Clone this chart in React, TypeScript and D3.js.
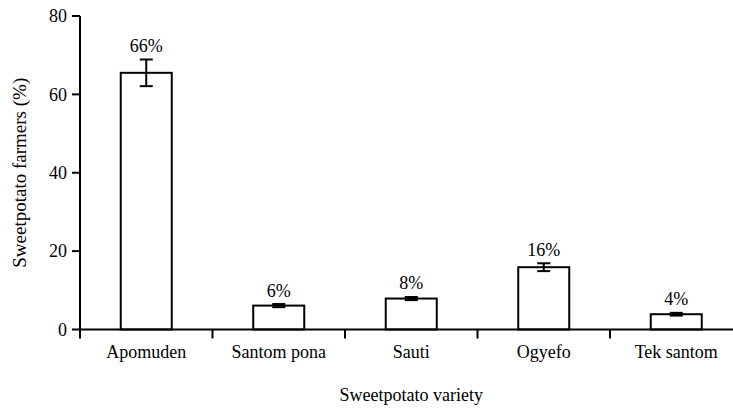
import React from "react";
import * as d3 from "d3";

const categories = ["Apomuden", "Santom pona", "Sauti", "Ogyefo", "Tek santom"];
const values = [65.5, 6.1, 7.9, 15.9, 3.9];
const errors = [3.4, 0.4, 0.4, 1.0, 0.35];
const labels = ["66%", "6%", "8%", "16%", "4%"];
const yTicks = [0, 20, 40, 60, 80];

const W = 733, H = 411;
const x0 = 80, x1 = 742.5, yTop = 16, yBottom = 329.5;
const FONT = "Liberation Serif";

export default function App() {
  const x = d3.scaleBand().domain(categories).range([x0, x1]).paddingInner(0.615).paddingOuter(0.3075);
  const y = d3.scaleLinear().domain([0, 80]).range([yBottom, yTop]);
  const step = x.step();
  const ts = { fontFamily: FONT };
  return (
    <svg width={W} height={H} style={{ position: "absolute", left: 0, top: 0, background: "#fff" }}>
      {categories.map((c, i) => {
        const bx = x(c)!;
        const bw = x.bandwidth();
        const cx = bx + bw / 2;
        const top = y(values[i]);
        const eTop = y(values[i] + errors[i]);
        const eBot = y(values[i] - errors[i]);
        return (
          <g key={c}>
            <rect x={bx} y={top} width={bw} height={yBottom - top} fill="#fff" stroke="#000" strokeWidth={2} />
            <line x1={cx} x2={cx} y1={eTop} y2={eBot} stroke="#000" strokeWidth={2} />
            <line x1={cx - 6.5} x2={cx + 6.5} y1={eTop} y2={eTop} stroke="#000" strokeWidth={2} />
            <line x1={cx - 6.5} x2={cx + 6.5} y1={eBot} y2={eBot} stroke="#000" strokeWidth={2} />
            <text style={ts} x={cx} y={eTop - 7.5} textAnchor="middle" fontSize={18}>{labels[i]}</text>
            <text style={ts} x={cx} y={358} textAnchor="middle" fontSize={18}>{c}</text>
          </g>
        );
      })}
      <line x1={x0} x2={W} y1={yBottom} y2={yBottom} stroke="#000" strokeWidth={2} />
      {categories.map((c, i) => {
        const tx = x0 + step * (i + 1);
        return <line key={"t" + i} x1={tx} x2={tx} y1={yBottom} y2={yBottom + 9} stroke="#000" strokeWidth={2} />;
      })}
      <line x1={x0} x2={x0} y1={yTop} y2={yBottom + 9} stroke="#000" strokeWidth={2} />
      {yTicks.map((t) => (
        <g key={t}>
          <line x1={x0 - 8} x2={x0} y1={y(t)} y2={y(t)} stroke="#000" strokeWidth={2} />
          <text style={ts} x={x0 - 13} y={y(t)} dy="0.35em" textAnchor="end" fontSize={18}>{t}</text>
        </g>
      ))}
      <text style={ts} x={(x0 + x1) / 2} y={401} textAnchor="middle" fontSize={18}>Sweetpotato variety</text>
      <text style={ts} transform={`translate(26,${(yTop + yBottom) / 2}) rotate(-90)`} textAnchor="middle" fontSize={19}>Sweetpotato farmers (%)</text>
    </svg>
  );
}
